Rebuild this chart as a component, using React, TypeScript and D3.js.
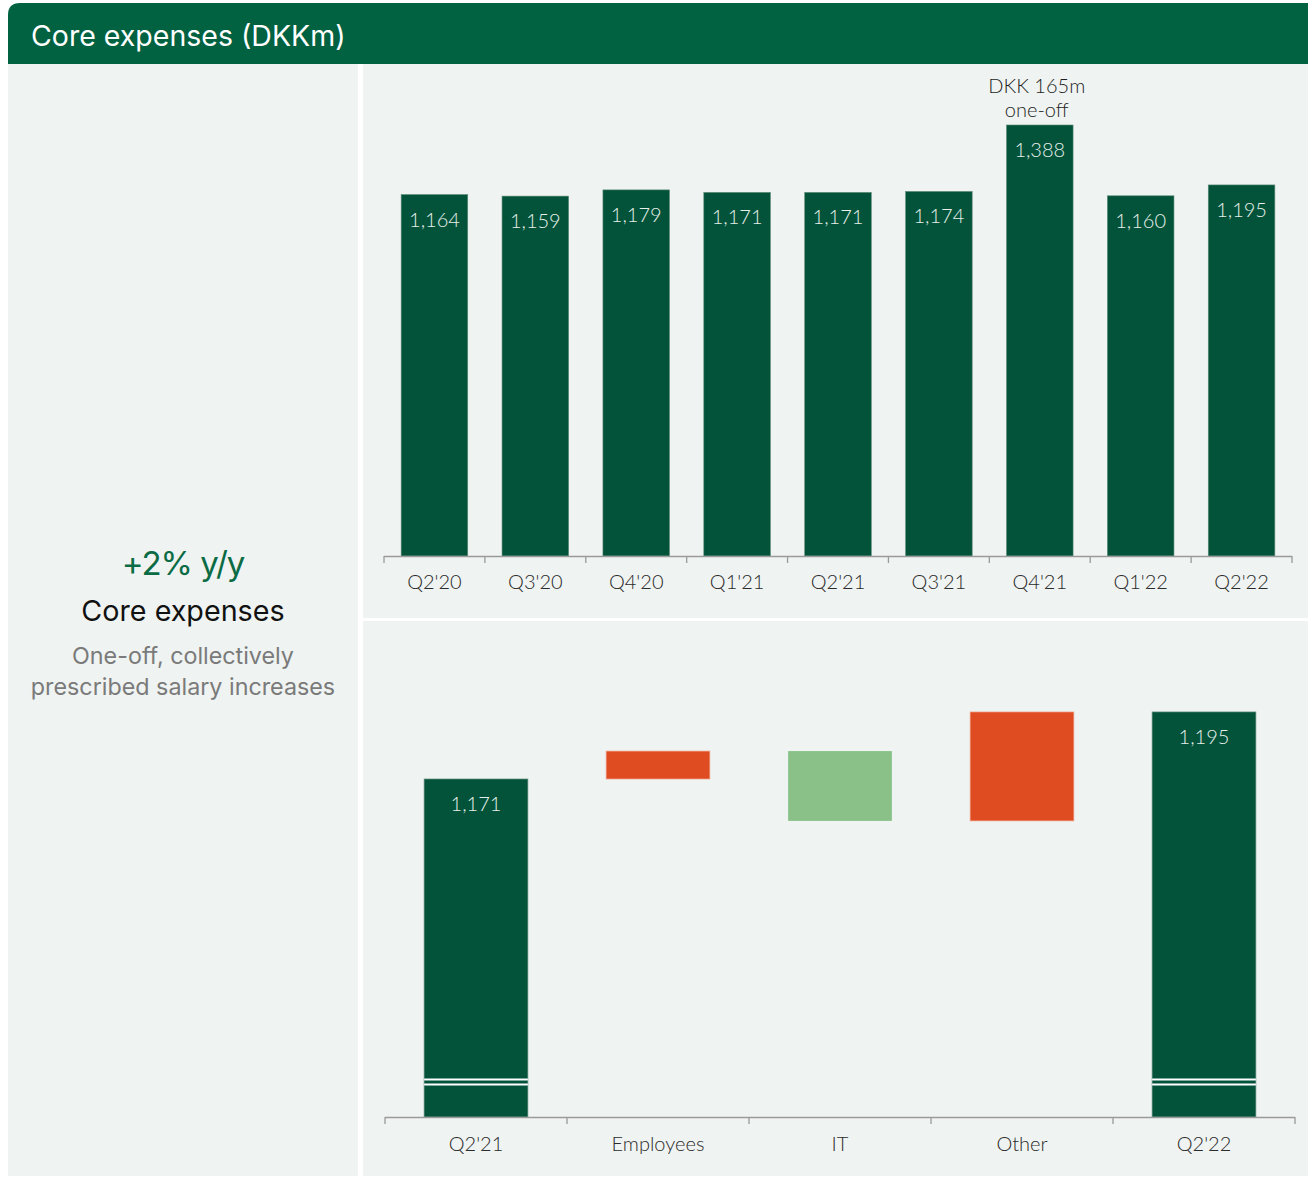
import React from "react";
import * as d3 from "d3";

// Quarterly core expenses (DKKm)
const quarters = ["Q2'20", "Q3'20", "Q4'20", "Q1'21", "Q2'21", "Q3'21", "Q4'21", "Q1'22", "Q2'22"];
const coreExpenses = [1164, 1159, 1179, 1171, 1171, 1174, 1388, 1160, 1195];
const oneOffNote = ["DKK 165m", "one-off"];
const oneOffQuarter = "Q4'21";

// Y/Y bridge Q2'21 -> Q2'22
const bridgeSteps = ["Q2'21", "Employees", "IT", "Other", "Q2'22"];
const bridgeValues = [1171, 10, -25, 39, 1195];
const bridgeKinds = ["total", "delta", "delta", "delta", "total"];

const W = 1308;
const H = 1192;
const GREEN = "#02533A";
const HEADER = "#006241";
const PANEL = "#EFF3F1";
const RED = "#E04C22";
const LIGHT_GREEN = "#89C189";
const NUM_FONT = "Lato, 'Open Sans', sans-serif";
const HEAD_FONT = "Inter, 'Noto Sans', sans-serif";
const fmt = d3.format(",");

function BarChart() {
  const x = d3.scaleBand<string>().domain(quarters).range([384, 1292]).paddingInner(0.34).paddingOuter(0.17);
  const y = d3.scaleLinear().domain([0, 1388]).range([556, 125]);
  const step = x.step();
  const ticks = d3.range(quarters.length + 1).map((i) => 384 + i * step);
  return (
    <g>
      {quarters.map((q, i) => {
        const v = coreExpenses[i];
        const bx = x(q)!;
        return (
          <g key={q}>
            <rect x={bx} y={y(v)} width={x.bandwidth()} height={y(0) - y(v)} fill={GREEN} stroke="#5E8C76" strokeWidth={0.6} />
            <text x={bx + x.bandwidth() / 2} y={y(v) + 32} textAnchor="middle" fill="#E6EFE9" fontSize={20} fontWeight={300} fontFamily={NUM_FONT}>
              {fmt(v)}
            </text>
          </g>
        );
      })}
      <line x1={384} x2={1292} y1={556.5} y2={556.5} stroke="#9A9A9A" strokeWidth={1.3} />
      {ticks.map((t, i) => (
        <line key={i} x1={t} x2={t} y1={556} y2={563} stroke="#9A9A9A" strokeWidth={1.3} />
      ))}
      {quarters.map((q) => (
        <text key={q} x={x(q)! + x.bandwidth() / 2} y={589} textAnchor="middle" fill="#2A2A2A" fontSize={20} fontWeight={300} fontFamily={NUM_FONT}>
          {q}
        </text>
      ))}
      {oneOffNote.map((line, i) => (
        <text key={i} x={x(oneOffQuarter)! + x.bandwidth() / 2 - 3} y={93 + i * 24} textAnchor="middle" fill="#1E1E1E" fontSize={20} fontWeight={300} fontFamily={NUM_FONT}>
          {line}
        </text>
      ))}
    </g>
  );
}

function Waterfall() {
  const x = d3.scaleBand<string>().domain(bridgeSteps).range([385, 1295]).paddingInner(0.43).paddingOuter(0.215);
  const y = d3.scaleLinear().domain([1050, 1200]).range([1117, 698]);
  const step = x.step();
  const ticks = d3.range(bridgeSteps.length + 1).map((i) => 385 + i * step);
  let running = 0;
  const segs = bridgeSteps.map((s, i) => {
    const v = bridgeValues[i];
    if (bridgeKinds[i] === "total") {
      running = v;
      return { s, lo: 1050, hi: v, kind: "total", v };
    }
    const start = running;
    running += v;
    return { s, lo: Math.min(start, running), hi: Math.max(start, running), kind: v >= 0 ? "up" : "down", v };
  });
  return (
    <g>
      {segs.map((d) => {
        const bx = x(d.s)!;
        const bw = x.bandwidth();
        const fill = d.kind === "total" ? GREEN : d.kind === "up" ? RED : LIGHT_GREEN;
        const stroke = d.kind === "total" ? "#5E8C76" : d.kind === "up" ? "#F0A48C" : "none";
        return (
          <g key={d.s}>
            <rect x={bx} y={y(d.hi)} width={bw} height={y(d.lo) - y(d.hi)} fill={fill} stroke={stroke} strokeWidth={0.7} />
            {d.kind === "total" && (
              <>
                {/* axis-break marker across the truncated total bar */}
                <rect x={bx} y={1078.5} width={bw} height={2} fill="#FFFFFF" />
                <rect x={bx} y={1083.5} width={bw} height={2} fill="#FFFFFF" />
                <text x={bx + bw / 2} y={y(d.hi) + 32} textAnchor="middle" fill="#E6EFE9" fontSize={20} fontWeight={300} fontFamily={NUM_FONT}>
                  {fmt(d.v)}
                </text>
              </>
            )}
          </g>
        );
      })}
      <line x1={385} x2={1295} y1={1117.5} y2={1117.5} stroke="#9A9A9A" strokeWidth={1.3} />
      {ticks.map((t, i) => (
        <line key={i} x1={t} x2={t} y1={1117} y2={1124} stroke="#9A9A9A" strokeWidth={1.3} />
      ))}
      {bridgeSteps.map((s) => (
        <text key={s} x={x(s)! + x.bandwidth() / 2} y={1151} textAnchor="middle" fill="#2A2A2A" fontSize={20} fontWeight={300} fontFamily={NUM_FONT}>
          {s}
        </text>
      ))}
    </g>
  );
}

export default function App() {
  return (
    <svg width={W} height={H} style={{ position: "absolute", left: 0, top: 0, background: "#FFFFFF" }}>
      <rect x={0} y={0} width={W} height={H} fill="#FFFFFF" />
      {/* header band with rounded top-left corner */}
      <path d={`M8,64 L8,15 Q8,3 20,3 L${W},3 L${W},64 Z`} fill={HEADER} />
      <text x={31} y={46} fill="#FFFFFF" fontSize={28.5} fontFamily={HEAD_FONT}>
        Core expenses (DKKm)
      </text>
      {/* panels */}
      <rect x={8} y={64} width={350} height={1112} fill={PANEL} />
      <rect x={363} y={64} width={W - 363} height={554} fill={PANEL} />
      <rect x={363} y={621} width={W - 363} height={555} fill={PANEL} />
      {/* key figure */}
      <text x={183} y={575} textAnchor="middle" fill="#0B6B45" fontSize={33} fontFamily={HEAD_FONT} letterSpacing={-1}>
        +2% y/y
      </text>
      <text x={183} y={621} textAnchor="middle" fill="#111" fontSize={28.7} fontFamily={HEAD_FONT}>
        Core expenses
      </text>
      <text x={183} y={664} textAnchor="middle" fill="#7A7A7A" fontSize={23.3} fontFamily={HEAD_FONT}>
        One-off, collectively
      </text>
      <text x={183} y={695} textAnchor="middle" fill="#7A7A7A" fontSize={23.3} fontFamily={HEAD_FONT}>
        prescribed salary increases
      </text>
      <BarChart />
      <Waterfall />
    </svg>
  );
}
